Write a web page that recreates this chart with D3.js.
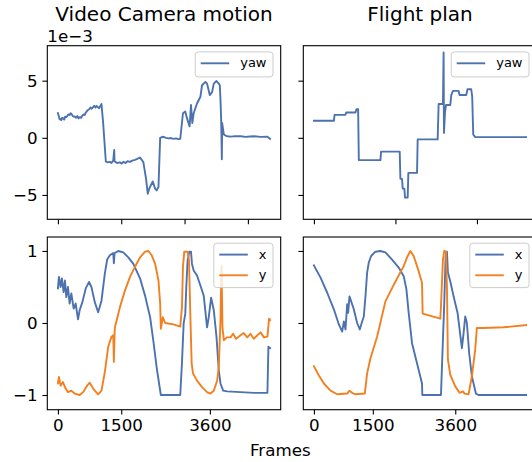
<!DOCTYPE html>
<html><head><meta charset="utf-8">
<script src="https://cdn.jsdelivr.net/npm/d3@7"></script>
<style>
body{margin:0;background:#fff;}
text{font-family:"DejaVu Sans",sans-serif;}
</style>
</head><body>
<svg id="chart" width="532" height="462"></svg>
<script>
// ---- DATA (yaw values in units of 1e-3) ----
const camYawFrames = [0,20,40,56,80,100,119,150,170,199,230,250,278,300,318,345,370,397,430,460,490,516,550,580,610,635,660,690,715,740,770,800,834,860,890,913,945,977,1000,1032,1072,1135,1180,1231,1270,1310,1334,1342,1400,1469,1510,1548,1600,1650,1707,1760,1826,1880,1945,1990,2025,2088,2128,2160,2199,2247,2303,2340,2382,2422,2460,2501,2560,2620,2680,2739,2800,2850,2898,2962,3017,3057,3120,3152,3184,3216,3295,3375,3414,3494,3533,3597,3652,3692,3756,3811,3835,3851,3867,3883,3891,3930,3970,4010,4100,4200,4327,4450,4550,4645,4800,4963,5026];
const camYaw = [2.15,1.9,1.62,1.64,1.55,1.75,1.72,1.6,1.85,1.81,1.95,2.05,2.0,2.15,2.1,1.95,1.85,1.87,1.75,1.9,1.7,1.81,1.75,1.95,2.05,2.0,2.2,2.35,2.44,2.5,2.65,2.55,2.67,2.8,2.65,2.79,2.7,2.59,2.75,2.96,1.29,-2.07,-2.15,-2.1,-2.2,-2.0,-1.06,-2.05,-2.2,-2.15,-2.25,-2.1,-2.2,-2.05,-2.1,-2.0,-1.93,-1.85,-1.72,-1.95,-2.15,-3.59,-4.89,-4.5,-4.17,-3.82,-4.45,-4.6,-4.31,0,0.05,0.09,0.0,-0.05,-0.02,-0.09,-0.05,-0.12,-0.09,2.15,2.3,1.72,1.0,2.87,1.29,2.15,3.0,3.59,4.6,4.89,4.74,3.74,4.0,4.74,4.97,4.74,4.6,3.3,1.58,-1.87,1.29,0.29,0.2,0.14,0.1,0.15,0.14,0.08,0.12,0.14,0.08,0.09,-0.09];

const planYawFrames = [0,490,506,775,792,1020,1044,1085,1102,1632,1648,2105,2122,2162,2179,2220,2236,2301,2317,2530,2546,3036,3060,3166,3182,3191,3215,3240,3346,3370,3411,3550,3574,3737,3770,3860,3884,3909,3958,5206];
const planYaw = [1.49,1.49,2.01,2.01,2.21,2.21,2.5,2.5,-1.95,-1.95,-1.21,-1.21,-3.59,-3.59,-4.45,-4.45,-5.23,-5.23,-3.07,-3.07,-0.14,-0.14,2.96,2.96,7.47,0.43,2.15,2.87,2.87,3.74,4.11,4.11,3.74,3.74,4.25,4.25,3.59,0.29,0.06,0.06];

const camXFrames = [0,24,64,95,135,167,199,238,278,318,373,421,476,516,580,659,738,794,873,953,1032,1112,1167,1231,1310,1326,1342,1429,1548,1667,1787,1945,2064,2184,2263,2342,2438,2898,2938,2978,3017,3041,3073,3112,3152,3176,3216,3295,3375,3454,3533,3573,3629,3692,3756,3811,3851,3914,4010,4327,4645,4963,4986,5026];
const camX = [0.48,0.64,0.5,0.62,0.43,0.59,0.36,0.5,0.27,0.41,0.2,0.27,0.05,0.18,0.29,0.48,0.57,0.5,0.29,0.15,0.31,0.69,0.88,0.94,0.97,0.83,0.97,1.0,0.98,0.91,0.82,0.62,0.38,0.08,-0.26,-0.63,-1.0,-1.0,-0.56,-0.01,0.13,0.5,0.87,0.99,0.99,0.82,0.73,0.66,0.52,0.38,-0.06,0.08,0.35,0.18,-0.19,-0.66,-0.84,-0.94,-0.95,-0.96,-0.97,-0.97,-0.33,-0.35];

const camYFrames = [0,24,64,119,183,238,318,397,516,596,691,754,834,953,1032,1112,1191,1270,1310,1326,1342,1350,1469,1588,1707,1826,1945,2064,2144,2223,2303,2382,2422,2438,2485,2541,2739,2898,2938,2962,2993,3073,3105,3136,3168,3200,3295,3414,3533,3613,3692,3772,3811,3851,3875,3898,3930,4000,4089,4150,4220,4327,4400,4486,4560,4640,4724,4800,4880,4963,5002,5026];
const camY = [-0.84,-0.75,-0.87,-0.82,-0.91,-0.96,-0.94,-0.98,-1.0,-0.96,-0.87,-0.83,-0.91,-0.99,-0.94,-0.68,-0.33,-0.19,-0.17,-0.54,-0.15,-0.06,0.22,0.45,0.64,0.78,0.91,0.99,1.0,0.94,0.82,0.59,0.27,-0.08,0.08,0.0,-0.02,-0.05,0.22,0.78,0.99,0.99,0.87,0.13,-0.56,-0.7,-0.8,-0.89,-0.96,-0.98,-0.94,-0.8,-0.61,0.04,0.8,-0.06,-0.24,-0.2,-0.2,-0.15,-0.22,-0.17,-0.14,-0.2,-0.15,-0.22,-0.17,-0.13,-0.2,-0.19,0.06,0.04];

const planXFrames = [0,169,339,508,635,720,762,805,847,872,906,949,1016,1101,1169,1228,1271,1313,1355,1398,1457,1567,1694,1821,1990,2160,2287,2355,2414,2499,2626,2753,2761,3236,3286,3320,3354,3388,3413,3473,3557,3659,3769,3812,3854,3896,3955,4023,4125,4193,5404];
const planX = [0.8,0.63,0.42,0.19,-0.02,-0.12,0.02,-0.09,0.26,0.14,0.37,0.3,0.19,0.0,-0.09,0.02,0.09,0.37,0.7,0.84,0.93,0.99,1.0,0.98,0.88,0.77,0.65,0.47,0.14,-0.28,-0.56,-0.84,-1.0,-1.0,-0.23,0.28,0.93,0.99,0.7,0.58,0.37,0.14,-0.35,-0.14,0.09,0.0,-0.42,-0.74,-0.98,-1.0,-1.0];

const planYFrames = [0,127,254,424,593,847,906,974,1059,1296,1355,1440,1609,1821,2033,2287,2372,2456,2541,2668,2753,2770,3219,3236,3286,3320,3363,3388,3413,3473,3600,3710,3795,3837,3939,4023,4108,4150,4320,4828,5404];
const planY = [-0.6,-0.73,-0.84,-0.94,-0.99,-0.98,-0.94,-0.97,-0.99,-0.98,-0.7,-0.49,-0.19,0.3,0.53,0.79,0.91,1.0,0.93,0.72,0.56,0.13,0.06,0.23,0.88,1.0,0.99,0.51,-0.51,-0.72,-0.88,-0.97,-0.95,-0.98,-0.99,-0.74,-0.37,-0.07,-0.07,-0.06,-0.03];

const titles = ["Video Camera motion", "Flight plan"];
const xAxisLabel = "Frames";
const yawOffsetText = "1e\u22123";
const yawTicks = [-5, 0, 5];
const posTicks = [-1, 0, 1];
const topLeftXTicks = [0, 1500, 3000, 4500];
const topRightXTicks = [0, 2000, 4000];
const bottomXTicks = [0, 1500, 3600];
const bottomXTickLabels = ["0", "1500", "3600"];

// ---- STYLE / LAYOUT ----
const C_BLUE = "#4c72b0", C_ORANGE = "#f28021";
const colL = 47.3, colR = 303.3, axW = 233.4;
const rowT = 45.7, rowB = 237, topH = 173.6, botH = 172.7;
const tickLen = 4.9, tickPad = 4.9, tickFont = 16.7;

const svg = d3.select("#chart");
svg.append("rect").attr("width",532).attr("height",462).attr("fill","#fff");

const fmtMinus = v => (v < 0 ? "\u2212" + Math.abs(v) : String(v));

function panel(o){
  const g = svg.append("g");
  const N = d3.max(o.series, s => d3.max(s.frames));
  const x = d3.scaleLinear().domain([-0.05*N, 1.05*N]).range([o.x, o.x + axW]);
  const y = d3.scaleLinear().domain(o.yDomain).range([o.y + o.h, o.y]);
  const cid = "clip" + Math.round(o.x) + Math.round(o.y);
  svg.append("clipPath").attr("id", cid).append("rect")
    .attr("x", o.x).attr("y", o.y).attr("width", axW).attr("height", o.h);
  const line = d3.line().x(d => x(d[0])).y(d => y(d[1]));
  const lg = g.append("g").attr("clip-path", `url(#${cid})`);
  o.series.forEach(s => {
    const pts = s.frames.map((f,i) => [f, s.values[i]]);
    lg.append("path").attr("d", line(pts)).attr("fill","none")
      .attr("stroke", s.color).attr("stroke-width", 1.9)
      .attr("stroke-linejoin","round").attr("stroke-linecap","square");
  });
  g.append("rect").attr("x", o.x).attr("y", o.y).attr("width", axW).attr("height", o.h)
    .attr("fill","none").attr("stroke","#000").attr("stroke-width",1.1);
  const xa = d3.axisBottom(x).tickValues(o.xTicks).tickSize(tickLen).tickPadding(tickPad)
    .tickFormat((d,i) => o.xLabels ? o.xLabels[i] : "");
  const xg = g.append("g").attr("transform", `translate(0,${o.y + o.h})`).call(xa);
  xg.select(".domain").remove();
  xg.selectAll("line").attr("stroke","#000").attr("stroke-width",1.1);
  xg.selectAll("text").attr("font-size", tickFont).attr("fill","#000")
    .attr("font-family","DejaVu Sans");
  const ya = d3.axisLeft(y).tickValues(o.yTicks).tickSize(tickLen).tickPadding(tickPad)
    .tickFormat(d => o.yLabels ? fmtMinus(d) : "");
  const yg = g.append("g").attr("transform", `translate(${o.x},0)`).call(ya);
  yg.select(".domain").remove();
  yg.selectAll("line").attr("stroke","#000").attr("stroke-width",1.1);
  yg.selectAll("text").attr("font-size", tickFont).attr("fill","#000")
    .attr("font-family","DejaVu Sans");
  // legend
  const lgd = g.append("g");
  const boxR = o.x + axW - 7.7, boxT = o.y + 6.2;
  const rowH = 20.7, lineLen = 28.5;
  const texts = [];
  const tmp = lgd.append("g");
  o.series.forEach(s => {
    texts.push(tmp.append("text").attr("font-size", 13).text(s.name));
  });
  const tw = d3.max(texts, t => t.node().getComputedTextLength());
  tmp.remove();
  const boxW = 5.5 + lineLen + 11 + tw + 6.5;
  const boxH = 25 + (o.series.length - 1) * rowH - (o.series.length>1 ? 1.3 : 0);
  const bx = boxR - boxW;
  lgd.append("rect").attr("x", bx).attr("y", boxT).attr("width", boxW).attr("height", boxH)
    .attr("rx", 3).attr("fill","#fff").attr("fill-opacity",0.8)
    .attr("stroke","#cccccc").attr("stroke-width",1);
  o.series.forEach((s,i) => {
    const cy = boxT + 11.4 + i*rowH;
    lgd.append("line").attr("x1", bx + 5.5).attr("x2", bx + 5.5 + lineLen)
      .attr("y1", cy).attr("y2", cy).attr("stroke", s.color).attr("stroke-width", 1.9);
    lgd.append("text").attr("x", bx + 5.5 + lineLen + 11).attr("y", cy)
      .attr("dy","0.32em").attr("font-size",13).attr("fill","#000").text(s.name);
  });
}

const yawDomain = [-7.13, 8.06];
const posDomain = [-1.204, 1.194];

panel({x: colL, y: rowT, h: topH, yDomain: yawDomain, yTicks: yawTicks, yLabels: true,
  xTicks: topLeftXTicks, xLabels: null,
  series: [{name:"yaw", frames: camYawFrames, values: camYaw, color: C_BLUE}]});
panel({x: colR, y: rowT, h: topH, yDomain: yawDomain, yTicks: yawTicks, yLabels: false,
  xTicks: topRightXTicks, xLabels: null,
  series: [{name:"yaw", frames: planYawFrames, values: planYaw, color: C_BLUE}]});
panel({x: colL, y: rowB, h: botH, yDomain: posDomain, yTicks: posTicks, yLabels: true,
  xTicks: bottomXTicks, xLabels: bottomXTickLabels,
  series: [{name:"x", frames: camXFrames, values: camX, color: C_BLUE},
           {name:"y", frames: camYFrames, values: camY, color: C_ORANGE}]});
panel({x: colR, y: rowB, h: botH, yDomain: posDomain, yTicks: posTicks, yLabels: false,
  xTicks: bottomXTicks, xLabels: bottomXTickLabels,
  series: [{name:"x", frames: planXFrames, values: planX, color: C_BLUE},
           {name:"y", frames: planYFrames, values: planY, color: C_ORANGE}]});

svg.append("text").attr("x", colL + axW/2).attr("y", 21).attr("text-anchor","middle")
  .attr("font-size", 20).attr("fill","#000").text(titles[0]);
svg.append("text").attr("x", colR + axW/2).attr("y", 21).attr("text-anchor","middle")
  .attr("font-size", 20).attr("fill","#000").text(titles[1]);
svg.append("text").attr("x", colL).attr("y", 41.7)
  .attr("font-size", 16.7).attr("fill","#000").text(yawOffsetText);
svg.append("text").attr("x", 280.3).attr("y", 455.5).attr("text-anchor","middle")
  .attr("font-size", 16.7).attr("fill","#000").text(xAxisLabel);
</script>
</body></html>
